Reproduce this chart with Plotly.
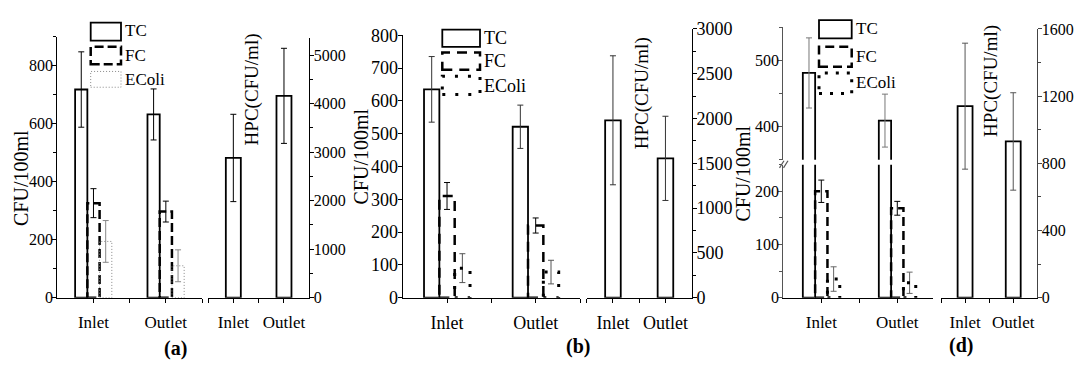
import plotly.graph_objects as go

W, H = 1075, 366
FONT = "Liberation Serif, Times New Roman, serif"

categories = ["Inlet", "Outlet"]
series_names = ["TC", "FC", "EColi"]

# ---- panel (a) ----
a_tc = [718, 632]
a_tc_err = [130, 88]
a_fc = [326, 297]
a_fc_err = [50, 36]
a_ec = [194, 110]
a_ec_err = [72, 55]
a_hpc = [2880, 4160]
a_hpc_err = [900, 980]
a_left_ticks = [0, 200, 400, 600, 800]
a_right_ticks = [0, 1000, 2000, 3000, 4000, 5000]

# ---- panel (b) ----
b_tc = [635, 521]
b_tc_err = [100, 66]
b_fc = [310, 220]
b_fc_err = [41, 23]
b_ec = [90, 78]
b_ec_err = [44, 36]
b_hpc = [1980, 1555]
b_hpc_err = [720, 470]
b_left_ticks = [0, 100, 200, 300, 400, 500, 600, 700, 800]
b_right_ticks = [0, 500, 1000, 1500, 2000, 2500, 3000]

# ---- panel (d) ----
d_tc = [481, 409]
d_tc_err = [53, 40]
d_fc = [200, 168]
d_fc_err = [21, 13]
d_ec = [35, 28]
d_ec_err = [23, 20]
d_hpc = [1140, 930]
d_hpc_err = [375, 290]
d_low_ticks = [0, 100, 200]
d_up_ticks = [400, 500]
d_right_ticks = [0, 400, 800, 1200, 1600]

xs = [i + 1 for i in range(len(categories))]


def dx(p0, p1):
    return [p0 / W, p1 / W]


def dy(top, bottom):
    return [1 - bottom / H, 1 - top / H]


fig = go.Figure()
shapes = []
annotations = []


def err(arr, color, thick=1.0, width=3):
    return dict(type="data", array=arr, visible=True, color=color,
                thickness=thick, width=width)


def add_group(xa, ya, vals, errs, w, styles, ya_extra=None):
    for k, (v, e, st) in enumerate(zip(vals, errs, styles)):
        off = (k - 1.5) * w
        kind, dash, lw, col, ecol = st
        if kind == "solid":
            if ya_extra is not None:
                fig.add_trace(go.Bar(x=xs, y=v, width=w, offset=off,
                                     marker=dict(color="white", line=dict(color=col, width=lw)),
                                     xaxis=xa, yaxis=ya, showlegend=False))
                fig.add_trace(go.Bar(x=xs, y=v, width=w, offset=off,
                                     marker=dict(color="white", line=dict(color=col, width=lw)),
                                     error_y=err(e, ecol),
                                     xaxis=xa, yaxis=ya_extra, showlegend=False))
            else:
                fig.add_trace(go.Bar(x=xs, y=v, width=w, offset=off,
                                     marker=dict(color="white", line=dict(color=col, width=lw)),
                                     error_y=err(e, ecol),
                                     xaxis=xa, yaxis=ya, showlegend=False))
        else:
            fig.add_trace(go.Bar(x=xs, y=v, width=w, offset=off,
                                 marker=dict(color="rgba(0,0,0,0)", line=dict(width=0)),
                                 error_y=err(e, ecol),
                                 xaxis=xa, yaxis=ya, showlegend=False))
            for xi, vi in zip(xs, v):
                shapes.append(dict(type="rect", xref=xa, yref=ya,
                                   x0=xi + off, x1=xi + off + w, y0=0, y1=vi,
                                   line=dict(color=col, width=lw, dash=dash),
                                   fillcolor="rgba(0,0,0,0)", layer="above"))


def add_hpc(xa, ya, v, e, w, ecol="black"):
    fig.add_trace(go.Bar(x=xs, y=v, width=w, offset=-w / 2,
                         marker=dict(color="white", line=dict(color="black", width=1.8)),
                         error_y=err(e, ecol),
                         xaxis=xa, yaxis=ya, showlegend=False))


# panel (a)
add_group("x", "y", [a_tc, a_fc, a_ec], [a_tc_err, a_fc_err, a_ec_err], 0.169,
          [("solid", None, 1.8, "black", "black"),
           ("dash", "9px,4px", 2.5, "black", "black"),
           ("dot", "1px,2px", 1, "#888", "#888")])
add_hpc("x2", "y2", a_hpc, a_hpc_err, 0.296)

# panel (b)
add_group("x3", "y3", [b_tc, b_fc, b_ec], [b_tc_err, b_fc_err, b_ec_err], 0.173,
          [("solid", None, 1.8, "black", "#333"),
           ("dash", "10px,7px", 2.5, "black", "black"),
           ("dot", "3px,10px", 3, "black", "#555")])
add_hpc("x4", "y4", b_hpc, b_hpc_err, 0.297, "#333")

# panel (d) with broken axis
add_group("x5", "y5", [d_tc, d_fc, d_ec], [d_tc_err, d_fc_err, d_ec_err], 0.162,
          [("solid", None, 1.8, "black", "#777"),
           ("dash", "9px,5px", 2.5, "black", "black"),
           ("dot", "3px,8px", 3, "black", "#666")], ya_extra="y6")
add_hpc("x6", "y7", d_hpc, d_hpc_err, 0.31, "#555")

tickfont_a = dict(family=FONT, size=16, color="black")
tickfont_b = dict(family=FONT, size=18, color="black")
catfont_a = dict(family=FONT, size=17, color="black")
catfont_b = dict(family=FONT, size=18, color="black")


def xax(dom, rng, tvals, font, anchor):
    labels = []
    for t in tvals:
        if t in xs:
            labels.append(categories[xs.index(t)])
        else:
            labels.append("")
    return dict(domain=dom, range=rng, anchor=anchor, tickmode="array",
                tickvals=tvals, ticktext=labels, ticks="outside", ticklen=4,
                tickcolor="black", showline=True, linecolor="black", linewidth=1.3,
                showgrid=False, zeroline=False, tickfont=font, ticklabelstandoff=5)


def yax(dom, rng, tvals, font, anchor, side="left", minor=None, color="black"):
    d = dict(domain=dom, range=rng, anchor=anchor, side=side, tickmode="array",
             tickvals=tvals, ticks="outside", ticklen=4, tickcolor=color,
             showline=True, linecolor=color, linewidth=1.3, showgrid=False,
             zeroline=False, tickfont=font, ticklabelstandoff=-4)
    if minor:
        d["minor"] = dict(dtick=minor, tick0=0, ticks="outside", ticklen=3,
                          tickcolor=color, showgrid=False)
    return d


layout_axes = dict(
    xaxis=xax(dx(57.3, 202), [0.5, 2.5], [1, 1.5, 2, 2.5], catfont_a, "y"),
    yaxis=yax(dy(28.3, 304.3), [0, 900], a_left_ticks, tickfont_a, "x", minor=100),
    xaxis2=xax(dx(208, 309.3), [0.5, 2.5], [0.5, 1, 1.5, 2], catfont_a, "y2"),
    yaxis2=yax(dy(30, 304.3), [0, 5345], a_right_ticks, tickfont_a, "x2", side="right", minor=500),
    xaxis3=xax(dx(402.7, 580), [0.5, 2.5], [1, 1.5, 2, 2.5], catfont_b, "y3"),
    yaxis3=yax(dy(26.7, 304.3), [0, 800], b_left_ticks, tickfont_b, "x3"),
    xaxis4=xax(dx(586.7, 691.7), [0.5, 2.5], [0.5, 1, 1.5, 2], catfont_b, "y4"),
    yaxis4=yax(dy(20, 304.3), [0, 3000], b_right_ticks, tickfont_b, "x4", side="right", minor=250),
    xaxis5=xax(dx(783.3, 932.7), [0.5, 2.466], [1, 1.5, 2], catfont_a, "y5"),
    yaxis5=yax(dy(163.6, 304.3), [0, 250], d_low_ticks, tickfont_a, "x5", minor=50, color="#555"),
    yaxis6=yax(dy(18.3, 158.3), [350, 550], d_up_ticks, tickfont_a, "x5", minor=50, color="#555"),
    xaxis6=xax(dx(941, 1037.3), [0.5, 2.5], [0.5, 1, 1.5, 2], catfont_a, "y7"),
    yaxis7=yax(dy(20, 304.3), [0, 1600], d_right_ticks, tickfont_a, "x6", side="right", minor=200, color="#444"),
)


def ann(text, px, py, size, angle=0, bold=False, xanchor="center"):
    annotations.append(dict(text=f"<b>{text}</b>" if bold else text,
                            x=px / W, y=1 - py / H, xref="paper", yref="paper",
                            xanchor=xanchor, yanchor="middle", showarrow=False,
                            textangle=angle,
                            font=dict(family=FONT, size=size, color="black")))


# axis titles
ann("CFU/100ml", 21.7, 178, 20, -90)
ann("HPC(CFU/ml)", 252, 84, 19, -90)
ann("CFU/100ml", 361, 155, 20, -90)
ann("HPC(CFU/ml)", 642, 88, 19, -90)
ann("CFU/100ml", 743, 173, 20, -90)
ann("HPC(CFU/ml)", 991, 75, 19, -90)

# panel labels
ann("(a)", 176, 358, 20, bold=True)
ann("(b)", 578, 356, 20, bold=True)
ann("(d)", 961, 355, 20, bold=True)


def legend(x0, x1, rows, tx, styles, size):
    for (top, bot, ty), name, (dash, lw, col) in zip(rows, series_names, styles):
        shapes.append(dict(type="rect", xref="paper", yref="paper",
                           x0=x0 / W, x1=x1 / W, y0=1 - bot / H, y1=1 - top / H,
                           line=dict(color=col, width=lw, dash=dash),
                           fillcolor="rgba(0,0,0,0)"))
        ann(name, tx, ty, size, xanchor="left")


legend(90.7, 121, [(13.3, 32.3, 22), (39, 57.3, 48), (65, 81.7, 74)], 123,
       [("solid", 1.8, "black"), ("9px,4px", 2.5, "black"), ("1px,2px", 1, "#888")], 17)
legend(442.3, 480, [(20.7, 39, 30), (45, 63.3, 54), (70, 89.3, 80)], 482,
       [("solid", 1.8, "black"), ("10px,7px", 2.5, "black"), ("3px,10px", 3, "black")], 18)
legend(819, 851.7, [(10.7, 30, 20), (39, 60, 49), (66.7, 88.3, 77)], 854,
       [("solid", 1.8, "black"), ("9px,5px", 2.5, "black"), ("3px,8px", 3, "black")], 17)

# axis-break marks on panel (d)
for bx in (779.5, 783.5):
    shapes.append(dict(type="line", xref="paper", yref="paper",
                       x0=bx / W, x1=(bx + 4.5) / W, y0=1 - 167 / H, y1=1 - 159.5 / H,
                       line=dict(color="#555", width=1.2)))

fig.update_layout(
    width=W, height=H, margin=dict(l=0, r=0, t=0, b=0),
    paper_bgcolor="white", plot_bgcolor="rgba(0,0,0,0)",
    barmode="overlay", showlegend=False,
    font=dict(family=FONT, color="black"),
    shapes=shapes, annotations=annotations,
    **layout_axes,
)

fig.write_html("out.html")
